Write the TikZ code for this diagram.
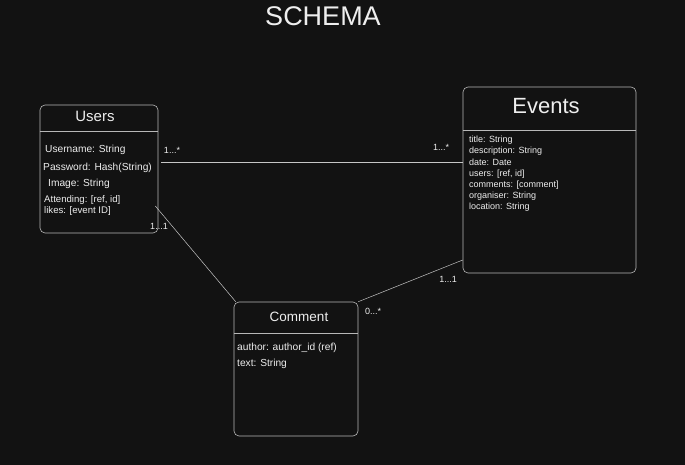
\documentclass[tikz,border=0pt]{standalone}
\usepackage{fontspec}
\setmainfont{Liberation Sans}
\usetikzlibrary{positioning}
\definecolor{bg}{HTML}{121212}
\definecolor{edgegrey}{HTML}{B8B8B8}
\definecolor{ink}{HTML}{EEEEEE}

\begin{document}
\begin{tikzpicture}[x=1pt, y=-1pt,
    table/.style={draw=edgegrey, line width=0.6pt, rounded corners=5pt, inner sep=0pt},
    title/.style={text=ink, inner sep=0pt},
    attr/.style={text=ink, anchor=west, inner sep=0pt, font=\fontsize{10.2}{12}\selectfont},
    mult/.style={text=ink, inner sep=0pt, font=\fontsize{9}{10}\selectfont},
    rel/.style={draw=edgegrey!80, line width=0.5pt}]

    \fill[bg] (0,0) rectangle (685,465);
    \useasboundingbox (0,0) rectangle (685,465);

    \node[title, font=\fontsize{27}{30}\selectfont] (schema) at (323,16) {SCHEMA};

    % Tables
    \node[table, minimum width=118pt, minimum height=128pt] (users)   at (99,169)    {};
    \node[table, minimum width=173pt, minimum height=186pt] (events)  at (549.5,180) {};
    \node[table, minimum width=124pt, minimum height=134pt] (comment) at (296,369)   {};

    \draw[edgegrey, line width=0.6pt] (users.west |- 0,131)   -- (users.east |- 0,131);
    \draw[edgegrey, line width=0.6pt] (events.west |- 0,130)  -- (events.east |- 0,130);
    \draw[edgegrey, line width=0.6pt] (comment.west |- 0,333) -- (comment.east |- 0,333);

    % Users
    \node[title, font=\fontsize{15}{17}\selectfont] (usersT) at (95,116) {Users};
    \node[attr] (uname)   at (45,150) {Username: String};
    \node[attr] (upass)   at (43,168) {Password: Hash(String)};
    \node[attr] (uimage)  at (48,184) {Image: String};
    \node[attr, font=\fontsize{9.6}{11}\selectfont] (uattend) at (44,200) {Attending: [ref, id]};
    \node[attr, font=\fontsize{9.6}{11}\selectfont] (ulikes)  at (44,211.5) {likes: [event ID]};

    % Events
    \node[title, font=\fontsize{22}{26}\selectfont] (eventsT) at (546,106) {Events};
    \node[attr, anchor=north west, align=left, font=\fontsize{9}{11.2}\selectfont]
        (eattrs) at (469,136) {title: String\\description: String\\date: Date\\users: [ref, id]\\comments: [comment]\\organiser: String\\location: String};

    % Comment
    \node[title, font=\fontsize{13.5}{16}\selectfont] (commentT) at (299,317) {Comment};
    \node[attr] (cauthor) at (237,348) {author: author\_id (ref)};
    \node[attr] (ctext)   at (237,364) {text: String};

    % Relations
    \draw[rel] ([xshift=3pt, yshift=7pt]users.east) -- ([yshift=18pt]events.west);
    \draw[rel] ([xshift=-3pt, yshift=-37pt]users.east) -- ([xshift=2pt]comment.north west);
    \draw[rel] (comment.north east) -- ([yshift=-80pt]events.west);

    \node[mult] (m1) at (172,150) {1...*};
    \node[mult] (m2) at (441,147) {1...*};
    \node[mult] (m3) at (159,226) {1...1};
    \node[mult] (m4) at (373,311) {0...*};
    \node[mult] (m5) at (448,279) {1...1};

\end{tikzpicture}
\end{document}
